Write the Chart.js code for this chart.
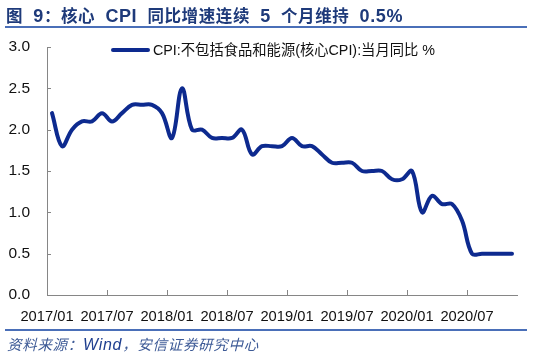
<!DOCTYPE html>
<html>
<head>
<meta charset="utf-8">
<script src="https://cdn.jsdelivr.net/npm/chart.js@4/dist/chart.umd.min.js"></script>
<style>
  html, body { margin: 0; padding: 0; background: #fff; }
  #wrap { position: relative; width: 550px; height: 357px; overflow: hidden; background: #fff; }
  #c { position: absolute; left: 0; top: 0; }
  .title { position: absolute; left: 6px; top: 3px; font: bold 16.5px "Liberation Sans", "Noto Sans CJK SC", sans-serif; color: #1e3a7a; white-space: nowrap; letter-spacing: 0.6px; word-spacing: 5px; }
  .title .l { font-size: 18px; }
  .rule { position: absolute; left: 5px; width: 522px; height: 2px; background: #4a6fb8; }
  .legend { position: absolute; left: 111px; top: 40px; height: 20px; white-space: nowrap; font: 14.3px "Liberation Sans", "Noto Sans CJK SC", sans-serif; color: #111; }
  .legend .swatch { position: absolute; left: 0; top: 7.5px; width: 39px; height: 4px; border-radius: 2px; background: #0d2a8f; }
  .legend .txt { position: absolute; left: 42px; top: 0; line-height: 20px; }
  .source { position: absolute; left: 7px; top: 333px; font: italic 14.5px "Liberation Sans", "Noto Sans CJK SC", sans-serif; color: #3d5a96; white-space: nowrap; letter-spacing: 0.7px; }
  .source .w { font-size: 16px; color: #1f3f8f; }
</style>
</head>
<body>
<div id="wrap">
  <canvas id="c" width="550" height="357"></canvas>
  <div class="title">图 <span class="l">9</span>：核心 <span class="l">CPI</span> 同比增速连续 <span class="l">5</span> 个月维持 <span class="l">0.5%</span></div>
  <div class="rule" style="top:26px"></div>
  <div class="legend"><span class="swatch"></span><span class="txt">CPI:不包括食品和能源(核心CPI):当月同比 %</span></div>
  <div class="rule" style="top:329px"></div>
  <div class="source">资料来源：<span class="w">Wind</span>，安信证券研究中心</div>
</div>
<script>
// ---- data ----
const months = [
  '2017/01','2017/02','2017/03','2017/04','2017/05','2017/06','2017/07','2017/08','2017/09','2017/10','2017/11','2017/12',
  '2018/01','2018/02','2018/03','2018/04','2018/05','2018/06','2018/07','2018/08','2018/09','2018/10','2018/11','2018/12',
  '2019/01','2019/02','2019/03','2019/04','2019/05','2019/06','2019/07','2019/08','2019/09','2019/10','2019/11','2019/12',
  '2020/01','2020/02','2020/03','2020/04','2020/05','2020/06','2020/07','2020/08','2020/09','2020/10','2020/11'
];
const coreCPI = [
  2.2, 1.8, 2.0, 2.1, 2.1, 2.2, 2.1, 2.2, 2.3, 2.3, 2.3, 2.2,
  1.9, 2.5, 2.0, 2.0, 1.9, 1.9, 1.9, 2.0, 1.7, 1.8, 1.8, 1.8,
  1.9, 1.8, 1.8, 1.7, 1.6, 1.6, 1.6, 1.5, 1.5, 1.5, 1.4, 1.4,
  1.5, 1.0, 1.2, 1.1, 1.1, 0.9, 0.5, 0.5, 0.5, 0.5, 0.5
];
const xTickLabels = ['2017/01','2017/07','2018/01','2018/07','2019/01','2019/07','2020/01','2020/07'];
const yTicks = [0, 0.5, 1.0, 1.5, 2.0, 2.5, 3.0];
const seriesName = 'CPI:不包括食品和能源(核心CPI):当月同比 %';

const AXIS = '#868686';
const points = coreCPI.map((v, i) => ({ x: i, y: v }));
const tickPos = xTickLabels.map(l => months.indexOf(l) - 0.5);

const innerTicks = {
  id: 'innerTicks',
  afterDraw(chart) {
    const { ctx, chartArea, scales: { x, y } } = chart;
    ctx.save();
    ctx.strokeStyle = AXIS;
    ctx.lineWidth = 1;
    ctx.beginPath();
    x.ticks.forEach(t => {
      const px = Math.round(x.getPixelForValue(t.value)) + 0.5;
      ctx.moveTo(px, chartArea.bottom);
      ctx.lineTo(px, chartArea.bottom - 5);
    });
    y.ticks.forEach(t => {
      const py = Math.round(y.getPixelForValue(t.value)) + 0.5;
      ctx.moveTo(chartArea.left, py);
      ctx.lineTo(chartArea.left + 4, py);
    });
    ctx.stroke();
    ctx.restore();
  }
};

new Chart(document.getElementById('c'), {
  type: 'line',
  data: {
    datasets: [{
      label: seriesName,
      data: points,
      borderColor: '#0d2a8f',
      borderWidth: 4,
      borderCapStyle: 'round',
      borderJoinStyle: 'round',
      pointRadius: 0,
      tension: 0.38,
      fill: false
    }]
  },
  options: {
    responsive: false,
    animation: false,
    layout: { padding: { top: 47, left: 0, right: 33, bottom: 32 } },
    plugins: { legend: { display: false }, tooltip: { enabled: false }, title: { display: false } },
    scales: {
      x: {
        type: 'linear',
        min: -0.5,
        max: months.length - 0.5,
        afterBuildTicks(scale) { scale.ticks = tickPos.map(v => ({ value: v })); },
        afterFit(scale) { scale.height = 30; },
        grid: { display: false, drawTicks: false },
        border: { display: true, color: AXIS, width: 1 },
        ticks: {
          autoSkip: false, maxRotation: 0, padding: 13,
          color: '#111',
          font: { family: '"Liberation Sans", Arial, sans-serif', size: 14.7 },
          callback: (v, idx) => xTickLabels[idx]
        }
      },
      y: {
        min: 0,
        max: 3,
        afterBuildTicks(scale) { scale.ticks = yTicks.map(v => ({ value: v })); },
        afterFit(scale) { scale.width = 47; },
        grid: { display: false, drawTicks: false },
        border: { display: true, color: AXIS, width: 1 },
        ticks: {
          padding: 17,
          color: '#111',
          font: { family: '"Liberation Sans", Arial, sans-serif', size: 15.5 },
          callback: v => Number(v).toFixed(1)
        }
      }
    }
  },
  plugins: [innerTicks]
});
</script>
</body>
</html>
